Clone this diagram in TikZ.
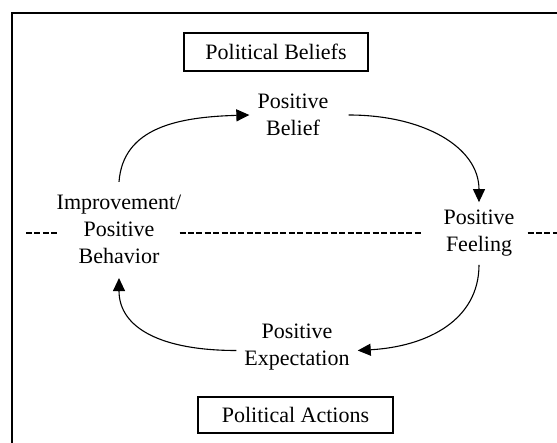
\documentclass[tikz,border=0pt]{standalone}
\usepackage{fontspec}
\setmainfont{Liberation Serif}
\usetikzlibrary{arrows.meta,calc}

\begin{document}
\begin{tikzpicture}[x=1pt,y=-1pt,
  font=\fontsize{22}{27}\selectfont,
  box/.style={draw,line width=1.1pt,inner sep=0pt},
  stage/.style={align=center,inner sep=8pt},
  cyc/.style={line width=1.1pt,-{Triangle[length=13pt,width=12pt]}},
  midline/.style={line width=1.1pt,dash pattern=on 6pt off 2.4pt}]
\useasboundingbox (0,0) rectangle (557,443);
% outer frame (cut off at right and bottom)
\draw[line width=1.3pt] (557,13) -| (12,443);
\node[box,minimum width=184pt,minimum height=38pt] (beliefs) at (276,52) {Political Beliefs};
\node[box,minimum width=195pt,minimum height=36pt] (actions) at (295.5,415) {Political Actions};
\node[stage] (belief) at (293,115) {Positive\\Belief};
\node[stage] (feeling) at (479,233.5) {Positive\\Feeling};
\node[stage] (expect) at (297,347.5) {Positive\\Expectation};
\node[stage] (behav) at (119,229.5) {Improvement/\\Positive\\Behavior};
% the cycle
\draw[cyc] ([yshift=5pt]behav.north) .. controls +(4,-55) and +(-70,2) .. (belief.west);
\draw[cyc] ([xshift=12pt]belief.east) .. controls +(75,0) and +(0,-55) .. (feeling.north);
\draw[cyc] (feeling.south) .. controls +(0,55) and +(70,-4) .. ([yshift=-3pt]expect.east);
\draw[cyc] ([yshift=-3pt]expect.west) .. controls +(-75,0) and +(0,50) .. ([yshift=-6pt]behav.south);
% dashed divider
\coordinate (divl) at (26,233);
\coordinate (divr) at (557,233);
\draw[midline] (divl) -- ($(divl -| behav.west)+(10,0)$);
\draw[midline] ($(divl -| behav.east)+(-10,0)$) -- ($(divl -| feeling.west)+(-13,0)$);
\draw[midline] ($(divr -| feeling.east)+(5,0)$) -- (divr);
\end{tikzpicture}
\end{document}
